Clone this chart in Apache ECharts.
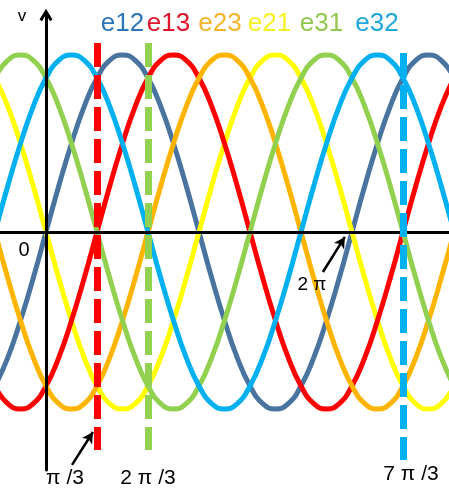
<!DOCTYPE html>
<html>
<head>
<meta charset="utf-8">
<script src="https://cdn.jsdelivr.net/npm/echarts@6/dist/echarts.min.js"></script>
<style>
html,body{margin:0;padding:0;background:#fff}
#chart{width:449px;height:495px}
</style>
</head>
<body>
<div id="chart"></div>
<script>
// angle in units of pi/3, one sample every pi/12
const theta = [-1,-0.75,-0.5,-0.25,0,0.25,0.5,0.75,1,1.25,1.5,1.75,2,2.25,2.5,2.75,3,3.25,3.5,3.75,4,4.25,4.5,4.75,5,5.25,5.5,5.75,6,6.25,6.5,6.75,7,7.25,7.5,7.75,8]

const e12 = [-0.87,-0.71,-0.5,-0.26,0,0.26,0.5,0.71,0.87,0.97,1,0.97,0.87,0.71,0.5,0.26,0,-0.26,-0.5,-0.71,-0.87,-0.97,-1,-0.97,-0.87,-0.71,-0.5,-0.26,0,0.26,0.5,0.71,0.87,0.97,1,0.97,0.87]
const e13 = [-0.87,-0.97,-1,-0.97,-0.87,-0.71,-0.5,-0.26,0,0.26,0.5,0.71,0.87,0.97,1,0.97,0.87,0.71,0.5,0.26,0,-0.26,-0.5,-0.71,-0.87,-0.97,-1,-0.97,-0.87,-0.71,-0.5,-0.26,0,0.26,0.5,0.71,0.87]
const e23 = [0,-0.26,-0.5,-0.71,-0.87,-0.97,-1,-0.97,-0.87,-0.71,-0.5,-0.26,0,0.26,0.5,0.71,0.87,0.97,1,0.97,0.87,0.71,0.5,0.26,0,-0.26,-0.5,-0.71,-0.87,-0.97,-1,-0.97,-0.87,-0.71,-0.5,-0.26,0]
const e21 = [0.87,0.71,0.5,0.26,0,-0.26,-0.5,-0.71,-0.87,-0.97,-1,-0.97,-0.87,-0.71,-0.5,-0.26,0,0.26,0.5,0.71,0.87,0.97,1,0.97,0.87,0.71,0.5,0.26,0,-0.26,-0.5,-0.71,-0.87,-0.97,-1,-0.97,-0.87]
const e31 = [0.87,0.97,1,0.97,0.87,0.71,0.5,0.26,0,-0.26,-0.5,-0.71,-0.87,-0.97,-1,-0.97,-0.87,-0.71,-0.5,-0.26,0,0.26,0.5,0.71,0.87,0.97,1,0.97,0.87,0.71,0.5,0.26,0,-0.26,-0.5,-0.71,-0.87]
const e32 = [0,0.26,0.5,0.71,0.87,0.97,1,0.97,0.87,0.71,0.5,0.26,0,-0.26,-0.5,-0.71,-0.87,-0.97,-1,-0.97,-0.87,-0.71,-0.5,-0.26,0,0.26,0.5,0.71,0.87,0.97,1,0.97,0.87,0.71,0.5,0.26,0]

const names = ['e12','e13','e23','e21','e31','e32']
const values = [e12,e13,e23,e21,e31,e32]
const lineColors = ['#4a74a0','#ff0000','#ffb400','#ffff00','#92d050','#00b0f0']
const textColors = ['#2e75b6','#e0142a','#f5b52a','#f7f020','#92c850','#1ea6e0']
const drawOrder = [0,3,1,2,4,5]

// dashed markers (x in pi/3 units)
const markTheta = [1, 2, 7]
const markColors = ['#ff0000','#92d050','#00b0f0']
const markTop = [1.068, 1.068, 1.011]
const markBottom = [-1.232, -1.232, -1.288]
const markLabels = ['π /3', '2 π /3', '7 π /3']

let chartDom = document.getElementById('chart')
let myChart = echarts.init(chartDom)

let series = drawOrder.map(i=>({
    name: names[i],
    type: 'line',
    data: theta.map((t,k)=>[t, values[i][k]]),
    smooth: true,
    showSymbol: false,
    z: 2,
    lineStyle: {width: 5, color: lineColors[i]},
    itemStyle: {color: lineColors[i]},
}))

let dashLines = markTheta.map((t,i)=>[
    {coord:[t, markTop[i]], lineStyle:{color: markColors[i], width: 7, type: [24, 8]}},
    {coord:[t, markBottom[i]]},
])
let arrows = [
    [{coord:[5.43,-0.226], symbol:'none', lineStyle:{color:'#000', width:2.5, type:'solid'}}, {coord:[5.86,-0.028], symbol:'arrow'}],
    [{coord:[0.51,-1.316], symbol:'none', lineStyle:{color:'#000', width:2.5, type:'solid'}}, {coord:[0.92,-1.13], symbol:'arrow'}],
]
series.push({
    type: 'line',
    data: [],
    z: 3,
    silent: true,
    markLine: {
        silent: true,
        symbol: ['none','none'],
        symbolSize: [9, 11],
        label: {show: false},
        emphasis: {disabled: true},
        animation: false,
        data: dashLines.concat(arrows),
    },
})

const font = 'Liberation Sans, Arial, sans-serif'
let legendX = [122.5, 168.5, 220, 269.5, 321.5, 377]
let graphic = names.map((n,i)=>({
    type: 'text', x: legendX[i], y: 24, z: 10,
    style: {text: n, fill: textColors[i], font: '26px ' + font, textAlign: 'center', textVerticalAlign: 'middle'},
}))
let texts = [
    {text:'v', x:22, y:16, size:17},
    {text:'0', x:24, y:250, size:20},
    {text:'2 π', x:312, y:285, size:19},
    {text:markLabels[0], x:65, y:478, size:21},
    {text:markLabels[1], x:148, y:478, size:21},
    {text:markLabels[2], x:411, y:474, size:21},
]
texts.forEach(t=>graphic.push({
    type:'text', x:t.x, y:t.y, z:10,
    style:{text:t.text, fill:'#000', font: t.size + 'px ' + font, textAlign:'center', textVerticalAlign:'middle'},
}))

let option = {
    animation: false,
    grid: {left: 0, right: 0, top: 15, bottom: 25},
    xAxis: {
        type: 'value', min: -0.902, max: 7.902,
        axisLine: {onZero: true, lineStyle: {color: '#000', width: 3}},
        axisTick: {show: false}, axisLabel: {show: false}, splitLine: {show: false},
        z: 4,
    },
    yAxis: {
        type: 'value', min: -1.3446, max: 1.226,
        axisLine: {onZero: true, symbol: ['none', 'path://M6,0 L12,10 L9.6,11.6 L6,5 L2.4,11.6 L0,10 Z'], symbolSize: [13, 13], lineStyle: {color: '#000', width: 3}},
        axisTick: {show: false}, axisLabel: {show: false}, splitLine: {show: false},
        z: 4,
    },
    graphic: graphic,
    series: series,
}
myChart.setOption(option)
</script>
</body>
</html>
